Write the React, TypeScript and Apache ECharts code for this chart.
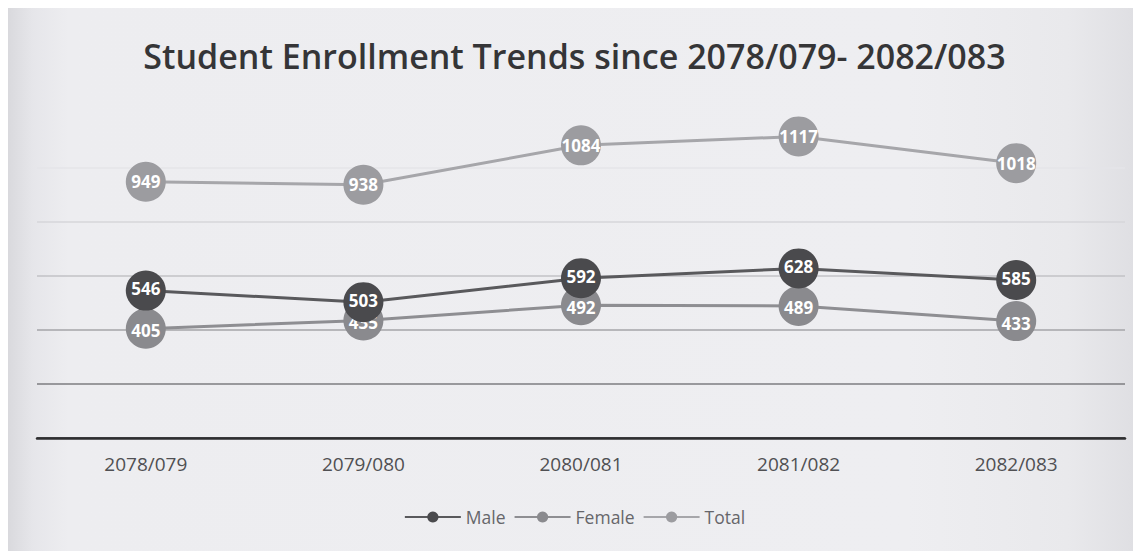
import React, { useEffect, useRef } from "react";
import * as echarts from "echarts";

const categories = ["2078/079", "2079/080", "2080/081", "2081/082", "2082/083"];
const maleValues = [546, 503, 592, 628, 585];
const femaleValues = [405, 435, 492, 489, 433];
const totalValues = [949, 938, 1084, 1117, 1018];
const titleText = "Student Enrollment Trends since 2078/079- 2082/083";

export default function App() {
  const ref = useRef<HTMLDivElement>(null);
  useEffect(() => {
    if (!ref.current) return;
    const chart = echarts.init(ref.current, undefined, { renderer: "svg" });
    const font = "'Open Sans', 'Liberation Sans', sans-serif";
    const mk = (
      name: string,
      data: number[],
      lineColor: string,
      dotColor: string,
      z: number,
      dy: number
    ) => ({
      name,
      type: "line",
      data,
      z,
      symbol: "circle",
      symbolSize: 40,
      lineStyle: { color: lineColor, width: 3 },
      itemStyle: { color: dotColor },
      label: {
        show: true,
        position: "inside",
        offset: [0, dy],
        color: "#ffffff",
        fontFamily: font,
        fontWeight: "bold",
        fontSize: 17,
        lineHeight: 15,
      },
    });
    chart.setOption({
      animation: false,
      backgroundColor: "transparent",
      title: {
        text: titleText,
        left: "center",
        top: 26,
        textStyle: { fontFamily: font, fontSize: 34, fontWeight: 600, color: "#353537" },
      },
      legend: {
        bottom: 20,
        left: "center",
        itemWidth: 56,
        itemHeight: 14,
        itemGap: 8,
        textStyle: { fontFamily: font, fontSize: 17.5, color: "#66666a" },
        data: ["Male", "Female", "Total"],
      },
      grid: { left: 29, right: 16, top: 106, bottom: 113 },
      xAxis: {
        type: "category",
        data: categories,
        boundaryGap: true,
        axisLine: { lineStyle: { color: "#2e2e30", width: 2.5 } },
        axisTick: { show: false },
        axisLabel: { fontFamily: font, fontSize: 19, color: "#505053", margin: 16 },
      },
      yAxis: {
        type: "value",
        min: 0,
        max: 1200,
        interval: 200,
        axisLabel: { show: false },
        axisLine: { show: false },
        axisTick: { show: false },
        splitLine: {
          lineStyle: {
            width: 1.5,
            color: ["#2e2e30", "#7c7c80", "#a4a4a8", "#c2c2c6", "#d6d6da", "#e4e4e8", "rgba(0,0,0,0)"],
          },
        },
      },
      series: [
        mk("Male", maleValues, "#59595c", "#4a4a4d", 4, -2),
        mk("Female", femaleValues, "#8e8e92", "#8a8a8e", 3, 2),
        mk("Total", totalValues, "#a6a6aa", "#9c9ca0", 2, 0),
      ],
    });
    return () => chart.dispose();
  }, []);
  return (
    <div
      ref={ref}
      style={{
        width: 1133,
        height: 543,
        background:
          "linear-gradient(to right, #d9d9dd 0px, #e6e6ea 25px, #ededf0 60px, #eeeef1 900px, #e9e9ec 1060px, #dedee2 1133px)",
      }}
    />
  );
}
